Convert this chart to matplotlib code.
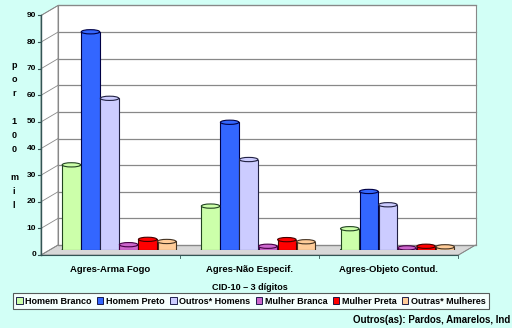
import matplotlib.pyplot as plt
from matplotlib.patches import Polygon, Rectangle, Ellipse, Patch

plt.rcParams['font.family'] = ['Liberation Sans', 'DejaVu Sans']
plt.rcParams['font.weight'] = 'bold'

categories = ['Agres-Arma Fogo', 'Agres-Não Especif.', 'Agres-Objeto Contud.']
series_names = ['Homem Branco', 'Homem Preto', 'Outros* Homens',
                'Mulher Branca', 'Mulher Preta', 'Outras* Mulheres']
# values per category (por 100 mil)
homem_branco = [32, 16.5, 8]
homem_preto = [82, 48, 22]
outros_homens = [57, 34, 17]
mulher_branca = [2, 1.4, 0.8]
mulher_preta = [4, 3.9, 1.4]
outras_mulheres = [3.2, 3.1, 1.2]
yticks = list(range(0, 100, 10))

series = [homem_branco, homem_preto, outros_homens,
          mulher_branca, mulher_preta, outras_mulheres]
colors = ['#CCFFAA', '#3366FF', '#CCCCFF', '#CC66CC', '#FF0000', '#FFCC99']
edges = ['#224422', '#000044', '#222244', '#440044', '#440000', '#443322']

bg = '#D2FFF6'
fig = plt.figure(figsize=(5.12, 3.28), dpi=100, facecolor=bg)
ax = fig.add_axes([49.5 / 512, 78 / 328, 417.5 / 512, 239.5 / 328])
ax.set_xlim(0, 3)
ax.set_ylim(0, 90)
ax.axis('off')

# depth offset of the pseudo 3D box (8.5 px right, 5 px up)
dx = 8.5 / 417.5 * 3
dy = 5 / 239.5 * 90

# floor, side wall and back wall
ax.add_patch(Polygon([(-dx, -dy), (3 - dx, -dy), (3 + dx, dy), (dx, dy)],
                     closed=True, facecolor='#D8D8D8', edgecolor='#888888',
                     lw=0.6, clip_on=False, zorder=1))
ax.add_patch(Polygon([(-dx, -dy), (dx, dy), (dx, 90 + dy), (-dx, 90 - dy)],
                     closed=True, facecolor='white', edgecolor='#888888',
                     lw=0.6, clip_on=False, zorder=1))
ax.add_patch(Rectangle((dx, dy), 3, 90, facecolor='white', edgecolor='#888888',
                       lw=0.8, clip_on=False, zorder=1))
for t in yticks:
    ax.plot([dx, 3 + dx], [t + dy, t + dy], color='#888888', lw=0.9,
            clip_on=False, zorder=2)
    ax.plot([-dx, dx], [t - dy, t + dy], color='#888888', lw=0.6,
            clip_on=False, zorder=2)

# front axis lines and ticks
ax.plot([-dx, -dx], [-dy, 90 - dy], color='#335555', lw=1.0, clip_on=False, zorder=5)
ax.plot([-dx, 3 - dx], [-dy, -dy], color='#335555', lw=0.8, clip_on=False, zorder=5)
for t in yticks:
    ax.plot([-dx - 0.02, -dx], [t - dy, t - dy], color='#335555', lw=0.8,
            clip_on=False, zorder=5)
    ax.text(-dx - 0.035, t - dy, str(t), ha='right', va='center', fontsize=6)
for b in [1, 2, 3]:
    ax.plot([b - dx, b - dx], [-dy, -dy - 1.2], color='#335555', lw=0.6,
            clip_on=False, zorder=5)
ax.plot([3 - dx, 3 + dx], [-dy, dy], color='#888888', lw=0.6, clip_on=False, zorder=5)

# cylinder bars
width = 0.137
for i, (vals, c, e) in enumerate(zip(series, colors, edges)):
    xs = [k + 0.5 + (i - 2.5) * width for k in range(len(categories))]
    ax.bar(xs, vals, width=width * 0.97, color=c, edgecolor=e, lw=0.8, zorder=10)
    for x, v in zip(xs, vals):
        ax.add_patch(Ellipse((x, v), width * 0.97, 1.6, facecolor=c,
                             edgecolor=e, lw=0.8, zorder=11))
        ax.add_patch(Ellipse((x, 0), width * 0.97, 1.6, facecolor=c,
                             edgecolor=e, lw=0.8, zorder=9))

for k, name in enumerate(categories):
    ax.text(k + 0.5 - dx, -dy - 5.5, name, ha='center', va='center', fontsize=6.8)

fig.text(250 / 512, 1 - 287 / 328, 'CID-10 – 3 dígitos', ha='center', va='center',
         fontsize=6.5)
fig.text(14 / 512, 1 - 135.5 / 328, 'p\no\nr\n\n1\n0\n0\n\nm\ni\nl', ha='center',
         va='center', fontsize=6.5, linespacing=1.72)

handles = [Patch(facecolor=c, edgecolor='#000033', lw=0.6) for c in colors]
leg = fig.legend(handles, series_names, loc='center', ncol=6,
                 bbox_to_anchor=(251 / 512, 1 - 301 / 328), fontsize=6.5,
                 frameon=True, fancybox=False, edgecolor='#333333',
                 handlelength=0.7, handleheight=0.7, handletextpad=0.3,
                 columnspacing=0.6, borderpad=0.35, borderaxespad=0)
leg.get_frame().set_linewidth(0.8)
leg.get_frame().set_facecolor('white')

fig.text(510 / 512, 1 - 320 / 328, 'Outros(as): Pardos, Amarelos, Ind',
         ha='right', va='center', fontsize=7)

fig.savefig('out.png', dpi=100, facecolor=bg)
